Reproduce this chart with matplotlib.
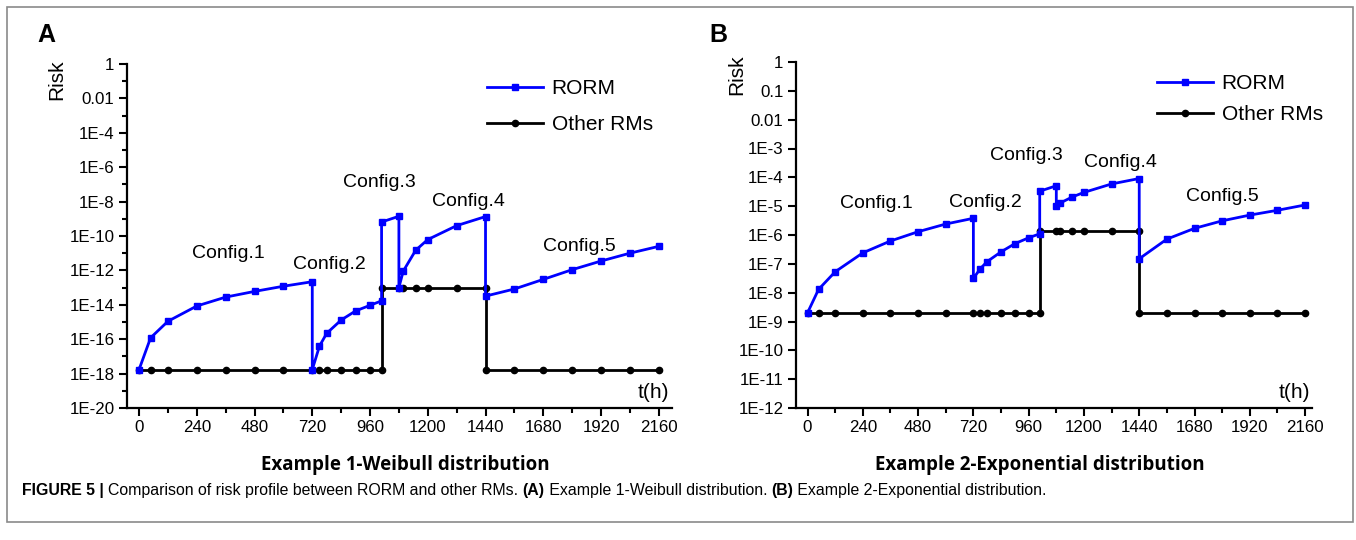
import numpy as np
import matplotlib
matplotlib.use("Agg")
import matplotlib.pyplot as plt
from matplotlib.patches import Rectangle
from matplotlib.ticker import FixedLocator, FixedFormatter, NullFormatter

plt.rcParams['font.family'] = ['Liberation Sans', 'DejaVu Sans']

# ---- data ----
# Example 1 - Weibull
t_rorm_a = [0, 48, 120, 240, 360, 480, 600, 720, 720, 750, 780, 840, 900, 960, 1008,
            1008, 1080, 1080, 1098, 1150, 1200, 1320, 1440, 1440, 1560, 1680, 1800,
            1920, 2040, 2160]
risk_rorm_a = [1.7e-18, 1.2e-16, 1.1e-15, 8.5e-15, 2.8e-14, 6e-14, 1.2e-13, 2.2e-13,
               1.7e-18, 4e-17, 2.2e-16, 1.3e-15, 4.4e-15, 9.3e-15, 1.7e-14,
               6.5e-10, 1.4e-9, 1e-13, 9e-13, 1.5e-11, 6.2e-11, 4e-10, 1.35e-9,
               3.2e-14, 8.3e-14, 3e-13, 1.1e-12, 3.5e-12, 1e-11, 2.5e-11]
t_other_a = [0, 48, 120, 240, 360, 480, 600, 720, 750, 780, 840, 900, 960, 1008,
             1008, 1080, 1098, 1150, 1200, 1320, 1440, 1440, 1560, 1680, 1800, 1920,
             2040, 2160]
risk_other_a = [1.7e-18] * 14 + [1e-13] * 7 + [1.7e-18] * 7

# Example 2 - Exponential
t_rorm_b = t_rorm_a
risk_rorm_b = [2e-9, 1.3e-8, 5.3e-8, 2.4e-7, 6.2e-7, 1.3e-6, 2.4e-6, 3.8e-6,
               3.1e-8, 6.8e-8, 1.2e-7, 2.6e-7, 5e-7, 8e-7, 1.1e-6,
               3.3e-5, 5.1e-5, 1.0e-5, 1.3e-5, 2.1e-5, 3e-5, 5.9e-5, 9.1e-5,
               1.5e-7, 7.2e-7, 1.7e-6, 3.1e-6, 4.9e-6, 7.2e-6, 1.1e-5]
t_other_b = t_other_a
risk_other_b = [2e-9] * 14 + [1.35e-6] * 7 + [2e-9] * 7

x_ticks = [0, 240, 480, 720, 960, 1200, 1440, 1680, 1920, 2160]
y_ticks_a = [1, 1e-2, 1e-4, 1e-6, 1e-8, 1e-10, 1e-12, 1e-14, 1e-16, 1e-18, 1e-20]
y_labels_a = ['1', '0.01', '1E-4', '1E-6', '1E-8', '1E-10', '1E-12', '1E-14',
              '1E-16', '1E-18', '1E-20']
y_ticks_b = [10.0 ** -k for k in range(13)]
y_labels_b = ['1', '0.1', '0.01'] + ['1E-%d' % k for k in range(3, 13)]

# annotation text positions (t, risk)
cfg_a = [('Config.1', 370, 1e-11), ('Config.2', 790, 2.2e-12),
         ('Config.3', 1000, 1.3e-7), ('Config.4', 1370, 1e-8), ('Config.5', 1830, 2.5e-11)]
cfg_b = [('Config.1', 300, 1.2e-5), ('Config.2', 770, 1.3e-5),
         ('Config.3', 950, 5.9e-4), ('Config.4', 1360, 3.4e-4), ('Config.5', 1800, 2.1e-5)]


def style_axis(ax, yticks, ylabels, ylim, minor_y, xmax):
    ax.set_yscale('log')
    ax.set_ylim(*ylim)
    ax.set_xlim(-50, xmax)
    ax.spines['top'].set_visible(False)
    ax.spines['right'].set_visible(False)
    for s in ('left', 'bottom'):
        ax.spines[s].set_linewidth(1.6)
    ax.xaxis.set_major_locator(FixedLocator(x_ticks))
    ax.xaxis.set_minor_locator(FixedLocator([t + 120 for t in x_ticks[:-1]]))
    ax.yaxis.set_major_locator(FixedLocator(yticks))
    ax.yaxis.set_major_formatter(FixedFormatter(ylabels))
    ax.yaxis.set_minor_locator(FixedLocator(minor_y))
    ax.yaxis.set_minor_formatter(NullFormatter())
    ax.tick_params(which='major', direction='out', length=6, width=1.5,
                   labelsize=12.2, pad=3)
    ax.tick_params(which='minor', direction='out', length=3.5, width=1.5)


W, H = 1356, 540
fig = plt.figure(figsize=(13.56, 5.4), dpi=100)

ax_a = fig.add_axes([127 / W, 1 - 408 / H, 545 / W, 344 / H])
ax_b = fig.add_axes([796 / W, 1 - 408 / H, 516 / W, 346 / H])

panels = [
    dict(ax=ax_a, tr=t_rorm_a, rr=risk_rorm_a, to=t_other_a, ro=risk_other_a,
         yt=y_ticks_a, yl=y_labels_a, ylim=(1e-20, 1),
         ymin=[10.0 ** -k for k in range(1, 20, 2)], cfg=cfg_a, letter='A',
         letter_xy=(46, 35), risk_xy=(57, 80), xmax=2215,
         leg_xy=(487, 79), leg_sp=0.84,
         title='Example 1-Weibull distribution', title_x=405),
    dict(ax=ax_b, tr=t_rorm_b, rr=risk_rorm_b, to=t_other_b, ro=risk_other_b,
         yt=y_ticks_b, yl=y_labels_b, ylim=(1e-12, 1), ymin=[], cfg=cfg_b,
         letter='B', letter_xy=(718, 35), risk_xy=(737, 75), xmax=2190,
         leg_xy=(1157, 74), leg_sp=0.6,
         title='Example 2-Exponential distribution', title_x=1040),
]

for p in panels:
    ax = p['ax']
    ax.plot(p['tr'], p['rr'], color='#0000FF', lw=2, marker='s', ms=5,
            label='RORM', zorder=3)
    ax.plot(p['to'], p['ro'], color='black', lw=2, marker='o', ms=4.5,
            label='Other RMs', zorder=2)
    style_axis(ax, p['yt'], p['yl'], p['ylim'], p['ymin'], p['xmax'])
    for name, tx, ty in p['cfg']:
        ax.text(tx, ty, name, fontsize=14, ha='center', va='center')
    ax.text(0.965, 0.045, 't(h)', transform=ax.transAxes, fontsize=15,
            ha='center', va='center')
    fig.text(p['risk_xy'][0] / W, 1 - p['risk_xy'][1] / H, 'Risk', fontsize=15,
             rotation=90, ha='center', va='center')
    lx, ly = p['leg_xy']
    ax.legend(loc='upper left', bbox_to_anchor=(lx / W, 1 - ly / H),
              bbox_transform=fig.transFigure, frameon=False, fontsize=15,
              handlelength=2.7, numpoints=1, handletextpad=0.4,
              labelspacing=p['leg_sp'], borderpad=0, borderaxespad=0)
    fig.text(p['letter_xy'][0] / W, 1 - p['letter_xy'][1] / H, p['letter'],
             fontsize=18, fontweight='bold', ha='center', va='center')
    fig.text(p['title_x'] / W, 1 - 465 / H, p['title'], fontsize=13.5,
             fontweight='bold', family=['Open Sans', 'DejaVu Sans'],
             ha='center', va='center')

# outer frame
fig.patches.append(Rectangle((7 / W, 1 - 522 / H), 1346 / W, 515 / H,
                             transform=fig.transFigure, fill=False,
                             edgecolor='#8a8a8a', lw=1.2))

# caption with mixed weights
caption = [('FIGURE 5 | ', 'bold'),
           ('Comparison of risk profile between RORM and other RMs. ', 'normal'),
           ('(A)', 'bold'), (' Example 1-Weibull distribution. ', 'normal'),
           ('(B)', 'bold'), (' Example 2-Exponential distribution.', 'normal')]
fig.canvas.draw()
renderer = fig.canvas.get_renderer()
x = 22 / W
for part, weight in caption:
    txt = fig.text(x, 1 - 491 / H, part, fontsize=11.4, fontweight=weight,
                   ha='left', va='center')
    bb = txt.get_window_extent(renderer=renderer)
    x += bb.width / fig.bbox.width

fig.savefig('out.png', dpi=100)
